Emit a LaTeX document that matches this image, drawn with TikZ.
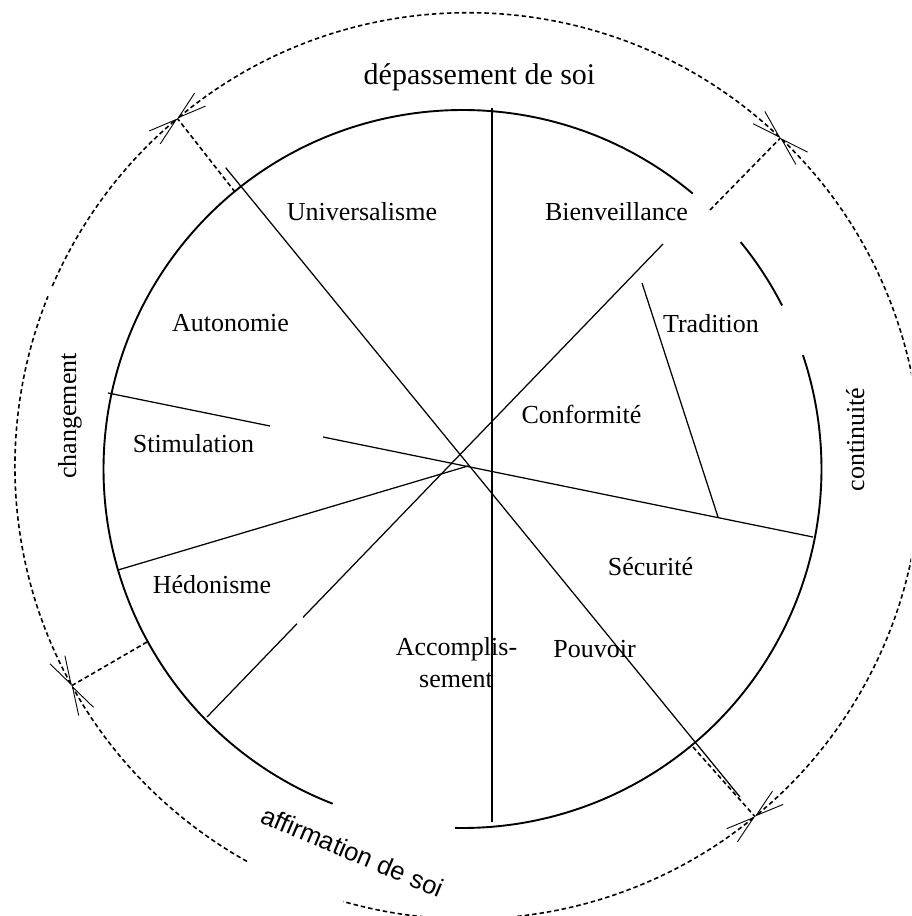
\documentclass[tikz,border=0pt]{standalone}
\usepackage{fontspec}
\setmainfont{Liberation Serif}
\newfontfamily\labsans{Liberation Sans}
\usetikzlibrary{arrows.meta}
\tikzset{
  ring/.style={line width=1.9pt},
  divider/.style={line width=1.25pt},
  dashline/.style={line width=1.6pt, dash pattern=on 4.5pt off 3pt},
  mybarb/.tip={Straight Barb[length=28pt,width=17pt,line width=0.9pt]},
  lab/.style={font=\fontsize{26}{32}\selectfont, inner sep=0pt, anchor=base},
  biglab/.style={font=\fontsize{30}{36}\selectfont, inner sep=0pt, anchor=base},
}
\begin{document}
\begin{tikzpicture}[x=1pt,y=1pt]
\useasboundingbox (0,0) rectangle (911,-916);
\clip (0,0) rectangle (911,-916);
% centres
\coordinate (C1) at (462.5,-469);
\coordinate (C2) at (468,-466);
% inner circle (with gaps)
\draw[ring] ([shift={(50.1:359pt)}]C1) arc[start angle=50.1,end angle=248.8,radius=359pt];
\draw[ring] ([shift={(-91.2:359pt)}]C1) arc[start angle=-91.2,end angle=18.5,radius=359pt];
\draw[ring] ([shift={(27.1:359pt)}]C1) arc[start angle=27.1,end angle=39.2,radius=359pt];
% outer arrow points
\coordinate (P1) at ([shift={(129.9:453pt)}]C2);
\coordinate (P2) at ([shift={(46.4:453pt)}]C2);
\coordinate (P3) at ([shift={(-50.7:453pt)}]C2);
\coordinate (P4) at ([shift={(209:453pt)}]C2);
\coordinate (G1) at ([shift={(-119.2:453pt)}]C2);
\coordinate (G2) at ([shift={(156.6:453pt)}]C2);
% outer dashed arcs
\draw[dashline, mybarb-mybarb] (P1) arc[start angle=129.9,end angle=46.4,radius=453pt];
\draw[dashline, mybarb-mybarb] (P2) arc[start angle=46.4,end angle=-50.7,radius=453pt];
\draw[dashline, mybarb-] (P3) arc[start angle=-50.7,end angle=-106,radius=453pt];
\draw[dashline, -mybarb] (G1) arc[start angle=-119.2,end angle=-151,radius=453pt];
\draw[dashline, mybarb-] (P4) arc[start angle=209,end angle=158,radius=453pt];
\draw[dashline, -mybarb] (G2) arc[start angle=156.6,end angle=129.9,radius=453pt];
% dashed radial connectors
\coordinate (R1) at (235,-192);
\coordinate (R2) at (710,-210);
\coordinate (R3) at (693,-747);
\coordinate (R4) at (147,-642);
\draw[dashline] (R1) -- (P1);
\draw[dashline] (R2) -- (P2);
\draw[dashline] (R3) -- (P3);
\draw[dashline] (R4) -- (P4);
% divider lines
\coordinate (V1) at (492,-108);
\coordinate (V2) at (492,-822);
\draw[divider] (V1) -- (V2);
\coordinate (A1) at (225.7,-167.7);
\coordinate (A2) at (740,-797);
\draw[divider] (A1) -- (A2);
\coordinate (B1) at (207,-717);
\coordinate (B2) at (297,-623.7);
\coordinate (B3) at (303,-617.4);
\coordinate (B4) at (663,-244);
\draw[divider] (B1) -- (B2);
\draw[divider] (B3) -- (B4);
\coordinate (S1) at (108,-393);
\coordinate (S2) at (270,-426);
\coordinate (S3) at (323,-437);
\coordinate (S4) at (813,-537);
\draw[divider] (S1) -- (S2);
\draw[divider] (S3) -- (S4);
\coordinate (H1) at (118,-570);
\coordinate (H2) at (468,-466);
\draw[divider] (H1) -- (H2);
\coordinate (T1) at (642,-283);
\coordinate (T2) at (718,-517);
\draw[divider] (T1) -- (T2);
% labels
\node[lab] (uni) at (362,-220) {Universalisme};
\node[lab] (bie) at (616.5,-220) {Bienveillance};
\node[lab] (aut) at (230.5,-331) {Autonomie};
\node[lab] (tra) at (711,-332) {Tradition};
\node[lab] (sti) at (193.5,-452) {Stimulation};
\node[lab] (con) at (581.5,-423) {Conformité};
\node[lab] (sec) at (650.5,-575) {Sécurité};
\node[lab] (hed) at (212,-593) {Hédonisme};
\node[lab] (pou) at (594.5,-657) {Pouvoir};
\node[lab] (acc1) at (456.5,-655) {Accomplis-};
\node[lab] (acc2) at (456,-687) {sement};
\node[biglab] (dep) at (479.5,-84) {dépassement de soi};
\node[lab, rotate=90] (cha) at (76,-416) {changement};
\node[lab, rotate=90] (cnt) at (864,-439.5) {continuité};
\node[inner sep=0pt, anchor=base, rotate=-23, font=\labsans\fontsize{25.6}{30}\selectfont] (aff) at (349,-860) {affirmation de soi};
\end{tikzpicture}
\end{document}
